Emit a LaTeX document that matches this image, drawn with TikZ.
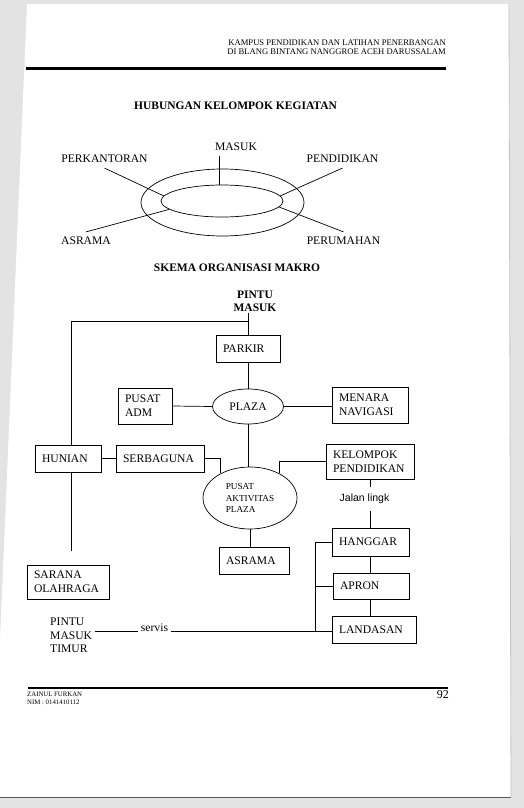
\documentclass[tikz,border=0pt]{standalone}
\usepackage{fontspec}
\setmainfont{Liberation Serif}
\newfontfamily\sansfont{Liberation Sans}
\usetikzlibrary{shapes.geometric}

\begin{document}
\begin{tikzpicture}[x = 1pt, y = -1pt]
\tikzstyle{BoxStyle}=[shape = rectangle, draw, line width = 0.7pt,
                      inner xsep = 7pt, inner ysep = 0pt, align = left,
                      font = \fontsize{11.6}{14}\selectfont]
\tikzstyle{OvalStyle}=[shape = ellipse, draw, line width = 0.7pt, inner sep = 0pt]
\tikzstyle{LabelStyle}=[font = \fontsize{11.6}{13.5}\selectfont, inner sep = 5pt]
\tikzstyle{TitleStyle}=[font = \bfseries\fontsize{11.5}{13}\selectfont, inner sep = 1pt]
\tikzstyle{Line}=[line width = 0.7pt]
\useasboundingbox (0,0) rectangle (524,808);
\fill[gray!22] (0,0) rectangle (524,808);
\fill[white] (27,4) -- (509,4) -- (511,797) -- (0,797) -- (0,640) -- cycle;
\draw[gray!70!black, line width = 1pt] (0,797.5) -- (511,797.5);
\draw[gray!45, line width = 0.8pt] (509,4) -- (511,797);
\node[align = right, anchor = east, inner sep = 0pt, font = \fontsize{8.6}{8.6}\selectfont] (kepala) at (446,47)
  {KAMPUS PENDIDIKAN DAN LATIHAN PENERBANGAN\\DI BLANG BINTANG NANGGROE ACEH DARUSSALAM};
\draw[line width = 2.6pt] (26,68.5) -- (446,68.5);
\node[TitleStyle] (judul1) at (235.5,106) {HUBUNGAN KELOMPOK KEGIATAN};
\node[OvalStyle, minimum width = 163pt, minimum height = 67pt] (luar) at (222.5,202.5) {};
\node[OvalStyle, minimum width = 122pt, minimum height = 32pt] (dalam) at (222,201) {};
\node[LabelStyle] (masuk) at (236,147) {MASUK};
\node[LabelStyle] (kantor) at (104.5,159) {PERKANTORAN};
\node[LabelStyle] (didik) at (342.5,159) {PENDIDIKAN};
\node[LabelStyle] (asrama1) at (86,241) {ASRAMA};
\node[LabelStyle] (rumah) at (343.5,241) {PERUMAHAN};
\draw[Line] (dalam.north -| 219,0) -- (masuk.south -| 219,0);
\draw[Line] (kantor.south) -- (dalam.175);
\draw[Line] (didik.south) -- (dalam.5);
\draw[Line] (asrama1.north) -- (dalam.189);
\draw[Line] (rumah.north) -- (dalam.354);
\node[TitleStyle] (judul2) at (237,268) {SKEMA ORGANISASI MAKRO};
\node[TitleStyle, align = center] (pintu) at (255,301.5) {PINTU\\MASUK};
\node[BoxStyle, text width = 50pt, minimum height = 27pt] (parkir) at (248,348.5) {PARKIR};
\node[OvalStyle, minimum width = 71pt, minimum height = 35pt, font = \fontsize{11.6}{14}\selectfont] (plaza) at (248,406.5) {PLAZA};
\node[BoxStyle, text width = 40pt, minimum height = 36pt] (adm) at (145,406) {PUSAT\\ADM};
\node[BoxStyle, text width = 62pt, minimum height = 36pt] (menara) at (370,405) {MENARA\\NAVIGASI};
\node[BoxStyle, text width = 52pt, minimum height = 27pt] (hunian) at (68,458.5) {HUNIAN};
\node[BoxStyle, text width = 74pt, minimum height = 27pt] (serba) at (160,458.5) {SERBAGUNA};
\node[BoxStyle, text width = 74pt, minimum height = 35pt] (kelompok) at (370,461.5) {KELOMPOK\\PENDIDIKAN};
\node[OvalStyle, minimum width = 94pt, minimum height = 62pt, align = left,
      font = \fontsize{9.2}{11.7}\selectfont] (aktivitas) at (250,498) {PUSAT\\AKTIVITAS\\PLAZA};
\node[font = \sansfont\fontsize{10.5}{12}\selectfont, inner xsep = 2pt, inner ysep = 7pt] (jalan) at (364.5,499) {Jalan lingk};
\node[BoxStyle, text width = 63pt, minimum height = 28pt] (hanggar) at (370.5,542) {HANGGAR};
\node[BoxStyle, text width = 56pt, minimum height = 27pt] (asrama2) at (254,560.5) {ASRAMA};
\node[BoxStyle, text width = 68pt, minimum height = 34pt] (sarana) at (68,582) {SARANA\\OLAHRAGA};
\node[BoxStyle, text width = 62pt, minimum height = 26pt] (apron) at (371,586) {APRON};
\node[BoxStyle, text width = 70pt, minimum height = 27pt] (landasan) at (374,629.5) {LANDASAN};
\node[LabelStyle, align = left, anchor = west, inner sep = 3pt] (timur) at (47,635.5) {PINTU\\MASUK\\TIMUR};
\node[font = \fontsize{11.6}{13}\selectfont, anchor = base, inner xsep = 3pt] (servis) at (154.5,631) {servis};
\coordinate (simpang) at (248,321);
\coordinate (ujung) at (71,551);
\coordinate (sambung) at (315,631);
\draw[Line] (parkir.north |- pintu.south) -- (parkir.north);
\draw[Line] (simpang) -| ([xshift = 3pt]hunian.north);
\draw[Line] (parkir.south) -- (plaza.north);
\draw[Line] (adm.east) -- (plaza.west);
\draw[Line] (plaza.east) -- (plaza.east -| menara.west);
\draw[Line] (plaza.south) -- (plaza.south |- aktivitas.north);
\draw[Line] (hunian.east) -- (serba.west);
\draw[Line] (serba.east) -| (aktivitas.140);
\draw[Line] (kelompok.west) -| (aktivitas.40);
\draw[Line] ([xshift = 3pt]hunian.south) -- (ujung);
\draw[Line] (aktivitas.south) -- (aktivitas.south |- asrama2.north);
\draw[Line] (kelompok.south) -- (kelompok.south |- jalan.north);
\draw[Line] (jalan.south -| kelompok.south) -- (kelompok.south |- hanggar.north);
\draw[Line] (hanggar.south -| kelompok.south) -- (kelompok.south |- apron.north);
\draw[Line] (apron.south -| kelompok.south) -- (kelompok.south |- landasan.north);
\draw[Line] (hanggar.west) -| (sambung);
\draw[Line] (apron.west -| sambung) -- (apron.west);
\draw[Line] (timur.east |- servis.base) -- (servis.base west);
\draw[Line] (servis.base east) -- (servis.base east -| landasan.west);
\draw[line width = 2pt] (28,688) -- (448,688);
\node[align = left, anchor = west, inner sep = 0pt, font = \fontsize{6.8}{8}\selectfont] (nama) at (27,698)
  {ZAINUL FURKAN\\NIM : 0141410112};
\node[anchor = east, inner sep = 0pt, font = \fontsize{12}{12}\selectfont] (halaman) at (449,695) {92};
\end{tikzpicture}
\end{document}
